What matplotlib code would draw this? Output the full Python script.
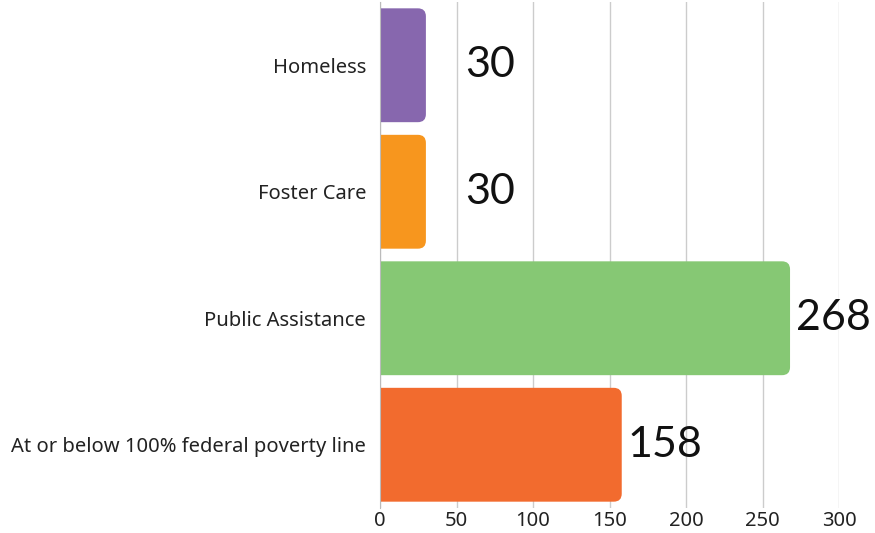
import matplotlib.pyplot as plt
from matplotlib.patches import FancyBboxPatch

categories = ['Homeless', 'Foster Care', 'Public Assistance',
              'At or below 100% federal poverty line']
values = [30, 30, 268, 158]
colors = ['#8767AE', '#F7961E', '#86C874', '#F26B2E']
xticks = [0, 50, 100, 150, 200, 250, 300]

W, H = 875, 533
fig = plt.figure(figsize=(W / 100, H / 100), dpi=100)
ax = fig.add_axes([380 / W, 1 - 508 / H, (839 - 380) / W, 506 / H])

ax.set_xlim(0, 300)
ax.set_ylim(3.5, -0.5)
ax.set_xticks(xticks)
ax.grid(axis='x', color='#cccccc', linewidth=1)
ax.set_axisbelow(True)

bars = ax.barh(range(len(categories)), values, height=0.9, color=colors)

# rounded right corners: swap each bar for a fancy box
px_x = (839 - 380) / 300.0
px_y = 506 / 4.0
r_px = 8
r = r_px / px_x
aspect = (r_px / px_y) / r
for b, c in zip(bars, colors):
    x0, y0 = b.get_x(), b.get_y()
    w, h = b.get_width(), b.get_height()
    b.remove()
    box = FancyBboxPatch((x0 - r, y0), w + r, h,
                         boxstyle='round,pad=0,rounding_size=%f' % r,
                         mutation_aspect=aspect, facecolor=c,
                         edgecolor='none', zorder=2)
    ax.add_patch(box)

for i, v in enumerate(values):
    ax.annotate(str(v), (max(v, 52), i), xytext=(6, 0), textcoords='offset pixels',
                va='center', ha='left', fontsize=31, family='Lato',
                color='#111111', annotation_clip=False)

ax.set_yticks(range(len(categories)))
ax.set_yticklabels(categories, fontsize=14.5, family='Noto Sans', color='#222222')
for lab in ax.get_xticklabels():
    lab.set_fontsize(14.5)
    lab.set_family('Noto Sans')
    lab.set_color('#222222')
ax.tick_params(length=0)
ax.tick_params(axis='y', pad=10)
ax.tick_params(axis='x', pad=2)
for s in ['top', 'right', 'bottom']:
    ax.spines[s].set_visible(False)
ax.spines['left'].set_color('#bbbbbb')

fig.savefig('out.png', dpi=100)
